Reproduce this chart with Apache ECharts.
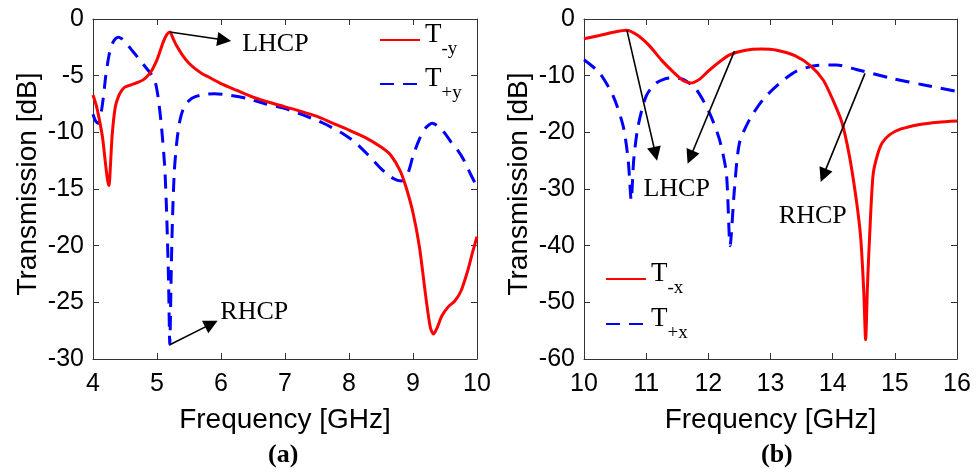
<!DOCTYPE html>
<html>
<head>
<meta charset="utf-8">
<script src="https://cdn.jsdelivr.net/npm/echarts@6/dist/echarts.min.js"></script>
<style>html,body{margin:0;padding:0;background:#fff;}#c{width:977px;height:475px;}</style>
</head>
<body>
<div id="c"></div>
<script>
// ---- Data (a) ----
const freqA_neg = [4.00,4.05,4.10,4.15,4.20,4.23,4.25,4.27,4.30,4.35,4.40,4.45,4.50,4.60,4.70,4.80,4.90,5.00,5.05,5.10,5.15,5.20,5.25,5.30,5.40,5.50,5.60,5.70,5.80,6.00,6.25,6.50,6.75,7.00,7.25,7.50,7.75,8.00,8.25,8.50,8.65,8.80,8.90,9.00,9.10,9.20,9.27,9.32,9.38,9.45,9.55,9.65,9.75,9.85,9.93,10.0];
const tA_neg    = [-6.7,-7.6,-8.9,-10.5,-13.0,-14.3,-14.7,-13.2,-10.2,-7.7,-6.8,-6.3,-6.0,-5.8,-5.6,-5.3,-4.7,-3.6,-2.8,-2.0,-1.4,-1.15,-1.7,-2.3,-3.2,-3.9,-4.4,-4.8,-5.1,-5.7,-6.3,-6.9,-7.35,-7.75,-8.15,-8.6,-9.2,-9.8,-10.45,-11.3,-12.0,-13.4,-15.0,-17.1,-20.1,-24.5,-27.2,-27.8,-27.2,-26.2,-25.4,-24.9,-24.0,-22.3,-20.6,-19.2];
const freqA_pos = [4.00,4.04,4.08,4.12,4.16,4.20,4.25,4.30,4.35,4.40,4.45,4.50,4.60,4.70,4.80,4.90,4.97,5.02,5.07,5.12,5.15,5.18,5.20,5.22,5.24,5.27,5.31,5.36,5.42,5.50,5.60,5.75,5.90,6.10,6.40,6.70,7.00,7.30,7.60,7.90,8.10,8.30,8.50,8.70,8.82,8.92,9.00,9.10,9.20,9.30,9.40,9.50,9.60,9.70,9.80,9.90,10.0];
const tA_pos    = [-8.4,-9.0,-9.2,-8.5,-7.0,-5.0,-3.2,-2.2,-1.75,-1.6,-1.75,-2.0,-2.7,-3.4,-4.1,-4.8,-5.5,-7.0,-9.5,-13.0,-17.0,-23.0,-28.7,-23.0,-18.0,-13.5,-10.8,-8.9,-7.8,-7.2,-6.85,-6.65,-6.6,-6.7,-7.0,-7.5,-7.9,-8.5,-9.2,-10.1,-10.9,-12.0,-13.2,-14.1,-14.3,-13.6,-12.1,-10.6,-9.6,-9.2,-9.5,-10.1,-10.9,-11.6,-12.5,-13.7,-14.8];
// ---- Data (b) ----
const freqB_neg = [10.00,10.25,10.50,10.68,10.85,11.05,11.25,11.45,11.60,11.72,11.85,12.00,12.15,12.35,12.60,12.85,13.10,13.40,13.65,13.85,14.00,14.15,14.27,14.38,14.45,14.50,14.53,14.56,14.60,14.65,14.72,14.80,14.92,15.10,15.40,15.70,16.00];
const tB_neg    = [-3.5,-2.9,-2.3,-2.0,-2.8,-4.7,-7.3,-9.5,-10.9,-11.3,-10.7,-9.2,-7.8,-6.3,-5.5,-5.3,-5.5,-6.5,-8.3,-10.8,-14.2,-18.3,-24.2,-31.9,-38.5,-48.0,-56.6,-47.0,-37.0,-27.5,-24.0,-21.8,-20.4,-19.4,-18.6,-18.2,-18.0];
const freqB_pos = [10.00,10.25,10.47,10.63,10.71,10.76,10.80,10.87,11.00,11.16,11.38,11.59,11.81,12.02,12.18,12.29,12.35,12.42,12.50,12.66,12.88,13.15,13.42,13.74,14.06,14.38,14.92,15.45,16.00];
const tB_pos    = [-7.2,-9.5,-13.6,-18.9,-24.8,-32.0,-24.8,-18.9,-13.6,-11.3,-10.4,-10.6,-12.5,-16.6,-21.3,-27.2,-40.0,-30.0,-21.9,-17.8,-14.2,-11.3,-9.2,-8.2,-8.1,-8.9,-10.4,-11.6,-12.8];

const namesA = ['T-y','T+y'];
const namesB = ['T-x','T+x'];
const xLabel = 'Frequency [GHz]';
const yLabel = 'Transmission [dB]';
const captions = ['(a)','(b)'];

// annotations (data coordinates)
const arrowsA = [[[5.2,-1.15],[6.05,-1.85]], [[5.2,-28.75],[5.85,-26.9]]];
const textsA  = [['LHCP',6.85,-2.2], ['RHCP',6.52,-25.9]];
const arrowsB = [[[10.69,-1.97],[11.15,-23.8]], [[12.42,-5.67],[11.71,-24.4]], [[14.52,-9.6],[13.85,-27.6]]];
const textsB  = [['LHCP',11.49,-30.0], ['RHCP',13.68,-34.8]];

const zip = (xs, ys) => xs.map((x,i)=>[x, ys[i]]);

const AX = '#333';
const sans = 'Liberation Sans';
const serif = 'Liberation Serif';

function xAxes(grid, min, max) {
  return [
    {type:'value', gridIndex:grid, min, max, interval:1, position:'bottom',
     axisLine:{show:true, onZero:false, lineStyle:{color:AX, width:1}},
     axisTick:{show:true, inside:true, length:6, lineStyle:{color:AX}},
     axisLabel:{color:'#000', fontFamily:sans, fontSize:25, margin:13},
     splitLine:{show:false},
     name:xLabel, nameLocation:'middle', nameGap:47,
     nameTextStyle:{color:'#000', fontFamily:sans, fontSize:28}},
    {type:'value', gridIndex:grid, min, max, interval:1, position:'top',
     axisLine:{show:true, onZero:false, lineStyle:{color:AX, width:1}},
     axisTick:{show:true, inside:true, length:6, lineStyle:{color:AX}},
     axisLabel:{show:false}, splitLine:{show:false}}
  ];
}
function yAxes(grid, min, max, interval) {
  return [
    {type:'value', gridIndex:grid, min, max, interval, position:'left',
     axisLine:{show:true, onZero:false, lineStyle:{color:AX, width:1}},
     axisTick:{show:true, inside:true, length:6, lineStyle:{color:AX}},
     axisLabel:{color:'#000', fontFamily:sans, fontSize:25, margin:9},
     splitLine:{show:false},
     name:yLabel, nameLocation:'middle', nameGap:51,
     nameTextStyle:{color:'#000', fontFamily:sans, fontSize:28, padding:[0,0,0,10]}},
    {type:'value', gridIndex:grid, min, max, interval, position:'right',
     axisLine:{show:true, onZero:false, lineStyle:{color:AX, width:1}},
     axisTick:{show:true, inside:true, length:6, lineStyle:{color:AX}},
     axisLabel:{show:false}, splitLine:{show:false}}
  ];
}

function markLines(arrows) {
  return {
    silent:true, animation:false,
    symbol:['none','triangle'], symbolSize:14,
    lineStyle:{color:'#000', width:1.6, type:'solid'},
    itemStyle:{color:'#000'},
    label:{show:false},
    data: arrows.map(a => [{coord:a[0]}, {coord:a[1]}])
  };
}
function markPoints(texts) {
  return {
    silent:true, animation:false, symbol:'rect', symbolSize:1,
    itemStyle:{color:'rgba(0,0,0,0)'},
    label:{show:true, position:'inside', formatter:'{b}', color:'#000', fontFamily:serif, fontSize:26},
    data: texts.map(t => ({name:t[0], coord:[t[1], t[2]]}))
  };
}

const redLine = {color:'#ff0000', width:3, type:'solid'};
const blueLine = {color:'#0000ff', width:3, type:[14,9]};

const legendRich = {
  t:{fontFamily:serif, fontSize:27, color:'#000', verticalAlign:'top'},
  s:{fontFamily:serif, fontSize:19, color:'#000', verticalAlign:'bottom', padding:[19,0,0,0]}
};
const legendFmt = name => '{t|' + name.charAt(0) + '}{s|' + name.slice(1) + '}';

const option = {
  animation:false,
  backgroundColor:'#fff',
  grid:[
    {left:93, right:500, top:19, bottom:116},
    {left:584, right:20, top:19, bottom:116}
  ],
  xAxis:[...xAxes(0,4,10), ...xAxes(1,10,16)],
  yAxis:[...yAxes(0,-30,0,5), ...yAxes(1,-60,0,10)],
  title:[
    {text:captions[0], left:263, top:437, textStyle:{fontFamily:serif, fontWeight:'bold', fontSize:26, color:'#000'}},
    {text:captions[1], left:756, top:437, textStyle:{fontFamily:serif, fontWeight:'bold', fontSize:26, color:'#000'}}
  ],
  legend:[
    {data:namesA, orient:'vertical', left:379, top:21, padding:0, itemWidth:40, itemHeight:14, itemGap:6,
     itemStyle:{opacity:0}, formatter:legendFmt, textStyle:{rich:legendRich}, selectedMode:false},
    {data:namesB, orient:'vertical', left:605, top:260, padding:0, itemWidth:40, itemHeight:14, itemGap:7,
     itemStyle:{opacity:0}, formatter:legendFmt, textStyle:{rich:legendRich}, selectedMode:false}
  ],
  series:[
    {name:namesA[0], type:'line', xAxisIndex:0, yAxisIndex:0, data:zip(freqA_neg,tA_neg),
     symbol:'none', smooth:0.25, lineStyle:redLine, itemStyle:{color:'#ff0000'}, z:3,
     markLine:markLines(arrowsA), markPoint:markPoints(textsA)},
    {name:namesA[1], type:'line', xAxisIndex:0, yAxisIndex:0, data:zip(freqA_pos,tA_pos),
     symbol:'none', smooth:0.25, lineStyle:blueLine, itemStyle:{color:'#0000ff'}, z:2},
    {name:namesB[0], type:'line', xAxisIndex:2, yAxisIndex:2, data:zip(freqB_neg,tB_neg),
     symbol:'none', smooth:0.25, lineStyle:redLine, itemStyle:{color:'#ff0000'}, z:3,
     markLine:markLines(arrowsB), markPoint:markPoints(textsB)},
    {name:namesB[1], type:'line', xAxisIndex:2, yAxisIndex:2, data:zip(freqB_pos,tB_pos),
     symbol:'none', smooth:0.25, lineStyle:blueLine, itemStyle:{color:'#0000ff'}, z:2}
  ]
};

const chart = echarts.init(document.getElementById('c'), null, {renderer:'canvas'});
chart.setOption(option);
</script>
</body>
</html>
